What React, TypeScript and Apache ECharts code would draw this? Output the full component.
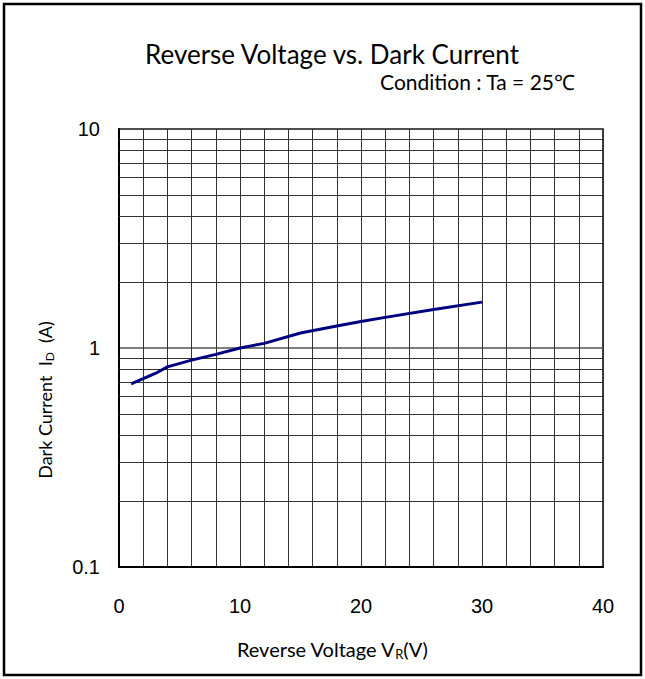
import React, { useEffect, useRef } from "react";
import * as echarts from "echarts";

const voltage = [1, 2, 3, 4, 6, 8, 10, 12, 15, 18, 20, 22, 26, 30];
const darkCurrent = [0.685, 0.725, 0.765, 0.82, 0.88, 0.935, 1.0, 1.05, 1.17, 1.26, 1.32, 1.38, 1.5, 1.62];
const minorGridValues = [0.2, 0.3, 0.4, 0.5, 0.6, 0.7, 0.8, 0.9, 2, 3, 4, 5, 6, 7, 8, 9];
const xMajorLabels = [0, 10, 20, 30, 40];

export default function App() {
  const ref = useRef<HTMLDivElement>(null);
  useEffect(() => {
    document.body.style.margin = "0";
    const chart = echarts.init(ref.current!, null, { renderer: "svg" });
    const tickFont = "'Liberation Sans Narrow', 'Liberation Sans', Arial, sans-serif";
    const textFont = "Lato, 'Open Sans', sans-serif";
    chart.setOption({
      animation: false,
      backgroundColor: "#fff",
      grid: { left: 119, right: 42, top: 129, bottom: 112, show: true, borderColor: "#000", borderWidth: 1.5 },
      xAxis: {
        type: "value",
        min: 0,
        max: 40,
        interval: 2,
        axisLine: { show: true, lineStyle: { color: "#000", width: 2 } },
        axisTick: { show: false },
        splitLine: { show: true, lineStyle: { color: "#333", width: 1 } },
        axisLabel: {
          margin: 29,
          fontSize: 20,
          fontFamily: tickFont,
          color: "#000",
          formatter: (v: number) => (xMajorLabels.includes(v) ? String(v) : ""),
        },
      },
      yAxis: {
        type: "log",
        logBase: 10,
        min: 0.1,
        max: 10,
        axisLine: { show: true, lineStyle: { color: "#000", width: 2 } },
        axisTick: { show: false },
        splitLine: { show: true, lineStyle: { color: "#555", width: 1.5 } },
        axisLabel: {
          margin: 19,
          fontSize: 20,
          fontFamily: tickFont,
          color: "#000",
          formatter: (v: number) => String(v),
        },
      },
      series: [
        {
          type: "line",
          data: voltage.map((v, i) => [v, darkCurrent[i]]),
          showSymbol: false,
          smooth: false,
          lineStyle: { color: "#000080", width: 3 },
          z: 5,
          markLine: {
            silent: true,
            symbol: "none",
            label: { show: false },
            lineStyle: { color: "#333", width: 1, type: "solid" },
            data: minorGridValues.map((v) => ({ yAxis: v })),
            z: 1,
          },
        },
      ],
      graphic: [
        {
          type: "rect",
          shape: { x: 4, y: 4, width: 637, height: 671 },
          style: { fill: "none", stroke: "#000", lineWidth: 2.5 },
          silent: true,
        },
        {
          type: "text",
          x: 332,
          y: 54,
          style: {
            text: "Reverse Voltage vs. Dark Current",
            fontSize: 26,
            fontFamily: textFont,
            fill: "#000",
            align: "center",
            verticalAlign: "middle",
          },
        },
        {
          type: "text",
          x: 575,
          y: 81,
          style: {
            text: "Condition : Ta = 25℃",
            fontSize: 21,
            fontFamily: textFont,
            fill: "#000",
            align: "right",
            verticalAlign: "middle",
          },
        },
        {
          type: "text",
          x: 332,
          y: 649,
          style: {
            text: "Reverse Voltage V{sub|R}(V)",
            fontSize: 20,
            fontFamily: textFont,
            fill: "#000",
            align: "center",
            verticalAlign: "middle",
            rich: {
              sub: { fontSize: 13, fontFamily: textFont, verticalAlign: "bottom", padding: [10, 0, 0, 0] },
            },
          },
        },
        {
          type: "text",
          x: 45,
          y: 400,
          rotation: Math.PI / 2,
          style: {
            text: "Dark Current  I{sub|D}  (A)",
            fontSize: 18,
            fontFamily: textFont,
            fill: "#000",
            align: "center",
            verticalAlign: "middle",
            rich: {
              sub: { fontSize: 12, fontFamily: textFont, verticalAlign: "bottom", padding: [9, 0, 0, 0] },
            },
          },
        },
      ],
    });
    return () => chart.dispose();
  }, []);
  return <div ref={ref} style={{ width: 645, height: 679 }} />;
}
